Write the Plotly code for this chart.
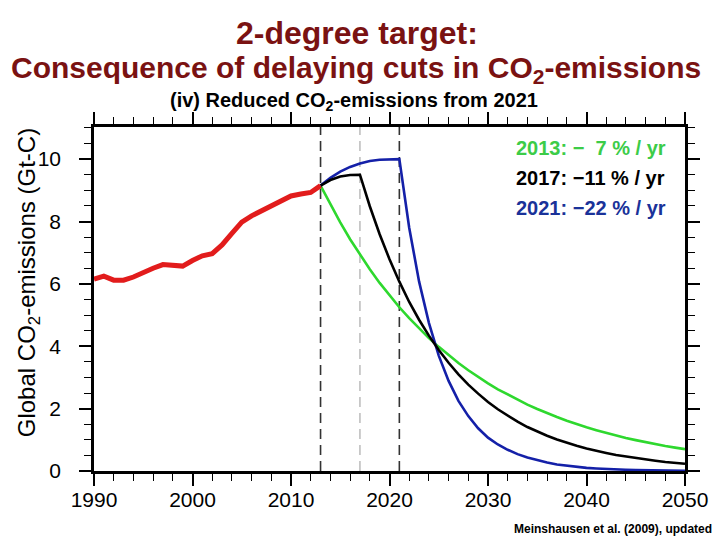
import plotly.graph_objects as go

# ---------------- data ----------------
hist_years = list(range(1990, 2014))
hist_emis = [6.15, 6.25, 6.12, 6.12, 6.22, 6.38, 6.50, 6.62, 6.58, 6.57, 6.75, 6.90,
             6.97, 7.25, 7.62, 7.98, 8.18, 8.35, 8.50, 8.68, 8.82, 8.88, 8.93, 9.15]

fut_years = list(range(2013, 2051))
emis_2013 = [9.15, 8.54, 7.97, 7.43, 6.93, 6.47, 6.03, 5.63, 5.25, 4.90, 4.57, 4.26,
             3.98, 3.71, 3.46, 3.23, 3.01, 2.81, 2.62, 2.45, 2.28, 2.13, 1.99, 1.85,
             1.73, 1.61, 1.50, 1.40, 1.31, 1.22, 1.14, 1.06, 0.99, 0.92, 0.86, 0.80,
             0.75, 0.70]
emis_2017 = [9.15, 9.33, 9.44, 9.49, 9.50, 8.49, 7.59, 6.79, 6.07, 5.42, 4.85, 4.34,
             3.88, 3.47, 3.10, 2.77, 2.48, 2.21, 1.98, 1.77, 1.58, 1.41, 1.26, 1.13,
             1.01, 0.90, 0.81, 0.72, 0.64, 0.58, 0.51, 0.46, 0.41, 0.37, 0.33, 0.29,
             0.26, 0.23]
emis_2021 = [9.15, 9.40, 9.60, 9.75, 9.86, 9.94, 9.98, 10.0, 10.0, 7.80, 6.08, 4.75,
             3.70, 2.89, 2.25, 1.76, 1.37, 1.07, 0.85, 0.68, 0.54, 0.43, 0.34, 0.27,
             0.21, 0.17, 0.13, 0.10, 0.08, 0.06, 0.05, 0.04, 0.03, 0.03, 0.02, 0.02,
             0.01, 0.01]

start_years = [2013, 2017, 2021]
start_labels = ["2013: \u2212\u00a0\u00a07 % / yr", "2017: \u221211 % / yr", "2021: \u221222 % / yr"]
x_ticks = [1990, 2000, 2010, 2020, 2030, 2040, 2050]
y_ticks = [0, 2, 4, 6, 8, 10]

GREEN = "#2ed82e"
BLUE = "#1420a8"
TXT_GREEN = "#3ccc48"
TXT_BLUE = "#1a3299"
TITLE_RED = "#7a1212"
FONT = "Liberation Sans, Arial"

fig = go.Figure()

fig.add_trace(go.Scatter(x=fut_years, y=emis_2013, mode="lines",
                         line=dict(color=GREEN, width=2.6), showlegend=False))
fig.add_trace(go.Scatter(x=fut_years, y=emis_2021, mode="lines",
                         line=dict(color=BLUE, width=2.6), showlegend=False))
fig.add_trace(go.Scatter(x=fut_years, y=emis_2017, mode="lines",
                         line=dict(color="black", width=2.6), showlegend=False))
fig.add_trace(go.Scatter(x=hist_years, y=hist_emis, mode="lines",
                         line=dict(color="#e21c1c", width=5), showlegend=False))

dash_colors = ["#333333", "#aaaaaa", "#333333"]
dash_widths = [1.6, 1.2, 1.6]
for yr, c, w in zip(start_years, dash_colors, dash_widths):
    fig.add_shape(type="line", xref="x", yref="paper", x0=yr, x1=yr, y0=0, y1=1,
                  line=dict(color=c, width=w, dash="10px,6px"), layer="below")

label_colors = [TXT_GREEN, "black", TXT_BLUE]
for i, (lab, c) in enumerate(zip(start_labels, label_colors)):
    fig.add_annotation(text="<b>" + lab + "</b>", xref="paper", yref="paper", x=0.710, y=0.939 - i * 0.087,
                       xanchor="left", yanchor="middle", showarrow=False,
                       font=dict(family=FONT, size=20, color=c))

fig.add_annotation(text="<b>2-degree target:</b>", xref="paper", yref="paper",
                   x=(362 - 94) / 602, y=(471 - 33) / 344, xanchor="center", yanchor="middle",
                   showarrow=False, font=dict(family=FONT, size=32, color=TITLE_RED))
fig.add_annotation(text="<b>Consequence of delaying cuts in CO<sub>2</sub>-emissions</b>",
                   xref="paper", yref="paper", x=(361 - 94) / 602, y=(471 - 70) / 344,
                   xanchor="center", yanchor="middle", showarrow=False,
                   font=dict(family=FONT, size=30, color=TITLE_RED))
fig.add_annotation(text="<b>(iv) Reduced CO<sub>2</sub>-emissions from 2021</b>",
                   xref="paper", yref="paper", x=(359 - 94) / 602, y=(471 - 101) / 344,
                   xanchor="center", yanchor="middle", showarrow=False,
                   font=dict(family=FONT, size=20, color="black"))
fig.add_annotation(text="Global CO<sub>2</sub>-emissions (Gt-C)", xref="paper", yref="paper",
                   x=(27 - 94) / 602, y=(471 - 283) / 344, xanchor="center", yanchor="middle",
                   textangle=-90, showarrow=False,
                   font=dict(family=FONT, size=24, color="black"))
fig.add_annotation(text="<b>Meinshausen et al. (2009), updated</b>", xref="paper", yref="paper",
                   x=(726 - 94) / 602, y=(471 - 529) / 344, xanchor="right", yanchor="middle",
                   showarrow=False,
                   font=dict(family=FONT, size=12, color="black"))

axis_common = dict(showgrid=False, zeroline=False, showline=True, linecolor="black", linewidth=2.5,
                   mirror="allticks", ticks="outside", ticklen=12, tickwidth=2, tickcolor="black",
                   tickfont=dict(family=FONT, size=21, color="black"))

fig.update_xaxes(range=[1990, 2050], tickvals=x_ticks, ticktext=[str(v) for v in x_ticks],
                 minor=dict(dtick=2, tick0=1990, ticklen=7, tickwidth=1.2, tickcolor="black", ticks="outside"),
                 ticklabelstandoff=-4, **axis_common)
fig.update_yaxes(range=[0, 11.03], tickvals=y_ticks, ticktext=[str(v) for v in y_ticks],
                 minor=dict(dtick=0.5, tick0=0, ticklen=7, tickwidth=1.2, tickcolor="black", ticks="outside"),
                 ticklabelstandoff=14, **axis_common)

fig.update_layout(width=720, height=540, margin=dict(l=94, r=24, t=127, b=69),
                  paper_bgcolor="white", plot_bgcolor="white", showlegend=False)

fig.write_html("out.html")
